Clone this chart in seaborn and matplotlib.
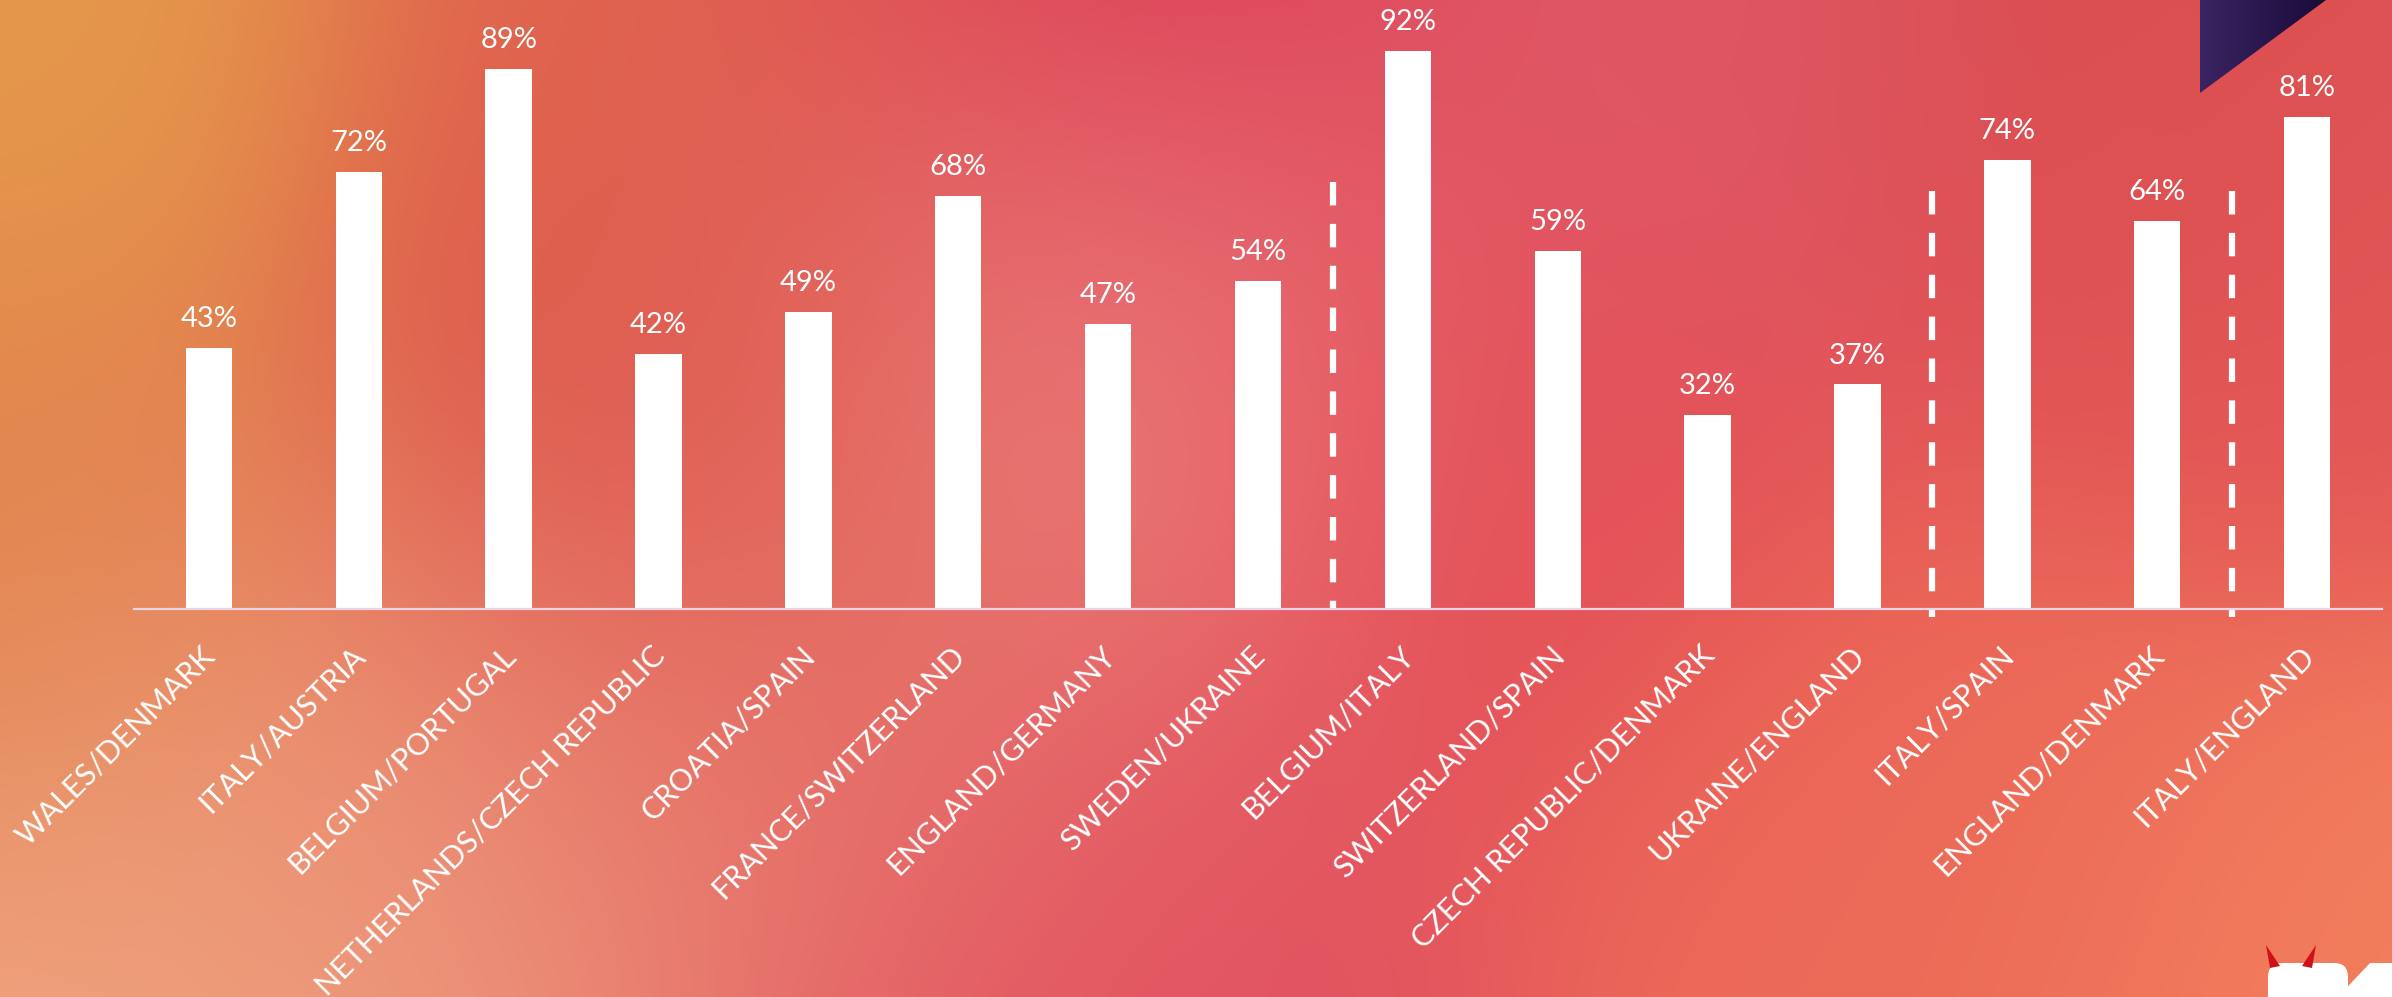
import numpy as np
import pandas as pd
import seaborn as sns
import matplotlib.pyplot as plt
from matplotlib.colors import to_rgb
from matplotlib.patches import Polygon, FancyBboxPatch
from matplotlib.transforms import ScaledTranslation

# data
matches = ["WALES/DENMARK", "ITALY/AUSTRIA", "BELGIUM/PORTUGAL",
           "NETHERLANDS/CZECH REPUBLIC", "CROATIA/SPAIN", "FRANCE/SWITZERLAND",
           "ENGLAND/GERMANY", "SWEDEN/UKRAINE", "BELGIUM/ITALY",
           "SWITZERLAND/SPAIN", "CZECH REPUBLIC/DENMARK", "UKRAINE/ENGLAND",
           "ITALY/SPAIN", "ENGLAND/DENMARK", "ITALY/ENGLAND"]
share = [43, 72, 89, 42, 49, 68, 47, 54, 92, 59, 32, 37, 74, 64, 81]
stage_sizes = [8, 4, 2, 1]   # round of 16, quarters, semis, final

df = pd.DataFrame({"match": matches, "share": share})

sns.set_style("white")
plt.rcParams['font.family'] = ['Lato', 'DejaVu Sans']

W, H = 2392, 997
fig = plt.figure(figsize=(W / 100, H / 100), dpi=100)

# background gradient (blend of soft colour spots)
bg = fig.add_axes([0, 0, 1, 1])
yy, xx = np.mgrid[0:H, 0:W]
u = xx / H
v = yy / H
spots = [
    (0.00, 0.00, '#E5994B'), (0.00, 0.55, '#E2844E'), (0.03, 1.00, '#EFA37F'),
    (0.17, 0.85, '#ED9479'), (0.28, 0.02, '#E0644E'), (0.28, 0.45, '#DC5449'),
    (0.47, 0.03, '#DA3450'), (0.46, 0.32, '#EE8C86'), (0.33, 0.78, '#E87C70'),
    (0.45, 0.97, '#E25260'), (0.62, 0.45, '#E34D56'), (0.70, 0.02, '#E05A68'),
    (0.88, 0.02, '#D84B4E'), (0.97, 0.25, '#E45757'), (0.80, 0.85, '#EC6A58'),
    (1.00, 1.00, '#F27F5D'),
]
num = np.zeros((H, W, 3))
den = np.zeros((H, W))
for sx, sy, c in spots:
    d2 = (u - sx * W / H) ** 2 + (v - sy) ** 2
    w = np.exp(-d2 / (2 * 0.22 ** 2)) + 1e-12
    num += w[..., None] * np.array(to_rgb(c))
    den += w
img = num / den[..., None]
bg.imshow(img, extent=[0, W, H, 0], aspect='auto', interpolation='bilinear')
bg.set_xlim(0, W)
bg.set_ylim(H, 0)
bg.axis('off')

# dark corner triangle
tri = Polygon([(2200, 0), (2326, 0), (2200, 93)], closed=True, transform=bg.transData)
grad = np.linspace(0, 1, 64)[None, :, None]
tri_img = (1 - grad) * np.array(to_rgb('#3B2463')) + grad * np.array(to_rgb('#1A0A38'))
ti = bg.imshow(tri_img, extent=[2200, 2326, 93, 0], aspect='auto')
ti.set_clip_path(tri)
bg.set_xlim(0, W)
bg.set_ylim(H, 0)

# logo hint bottom right
bg.add_patch(FancyBboxPatch((2268, 963), 80, 60, boxstyle="round,pad=0,rounding_size=14",
                            fc='white', ec='none'))
bg.add_patch(Polygon([(2335, 1000), (2370, 963), (2392, 963), (2392, 1000)],
                     closed=True, fc='white', ec='none'))
bg.add_patch(Polygon([(2266, 945), (2270, 968), (2280, 966)], closed=True, fc='#D0101A', ec='none'))
bg.add_patch(Polygon([(2316, 945), (2312, 968), (2302, 966)], closed=True, fc='#D0101A', ec='none'))

# main chart
ax = fig.add_axes([134 / W, 388 / H, 2248 / W, 607 / H])
ax.patch.set_alpha(0)
sns.barplot(data=df, x="match", y="share", color="white", saturation=1,
            width=0.31, edgecolor="none", ax=ax)
ax.set_xlim(-0.5, len(matches) - 0.5)
ax.set_ylim(0, 100)

for i, val in enumerate(share):
    ax.annotate(f"{val}%", (i, val), xytext=(0, 15), textcoords='offset points',
                ha='center', va='baseline', color='white', fontsize=21)

# dashed stage separators
breaks = np.cumsum(stage_sizes)[:-1] - 0.5
for k, b in enumerate(breaks):
    top, bot = (70.3, 0) if k == 0 else (68.9, -1.3)
    ax.plot([b, b], [top, bot], color='white', lw=4.5, dashes=(3.75, 2.95),
            solid_capstyle='butt', dash_capstyle='butt', clip_on=False)

for s in ['top', 'right', 'left']:
    ax.spines[s].set_visible(False)
ax.spines['bottom'].set_color('#E8D4E4')
ax.spines['bottom'].set_linewidth(1.6)
ax.set_yticks([])
ax.set_xlabel("")
ax.set_ylabel("")
ax.set_xticks(range(len(matches)))
ax.set_xticklabels(matches, rotation=45, ha='right', va='top',
                   rotation_mode='anchor', color='white', fontsize=22)
ax.tick_params(axis='x', length=0, pad=23)
offset = ScaledTranslation(-8 / 100, 0, fig.dpi_scale_trans)
for lab in ax.get_xticklabels():
    lab.set_transform(lab.get_transform() + offset)

plt.savefig('out.png', dpi=100)
